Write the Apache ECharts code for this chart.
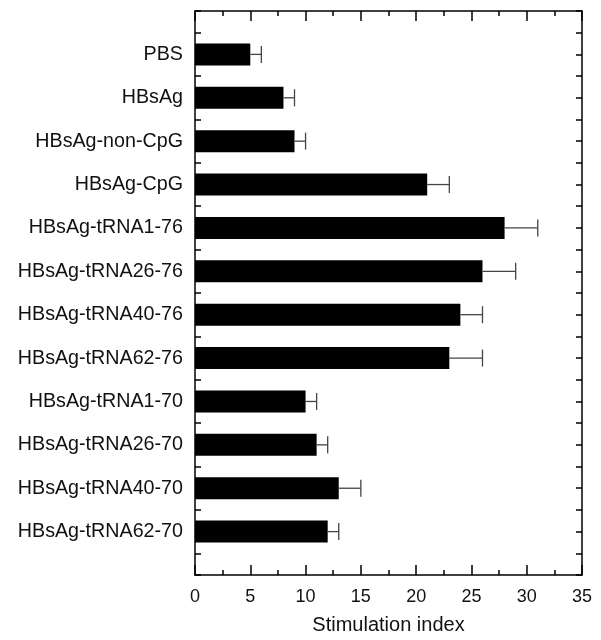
<!DOCTYPE html>
<html>
<head>
<meta charset="utf-8">
<script src="https://cdn.jsdelivr.net/npm/echarts@6/dist/echarts.min.js"></script>
<style>html,body{margin:0;padding:0;background:#fff}#c{width:601px;height:640px}</style>
</head>
<body>
<div id="c"></div>
<script>
var categories = ['PBS','HBsAg','HBsAg-non-CpG','HBsAg-CpG','HBsAg-tRNA1-76','HBsAg-tRNA26-76','HBsAg-tRNA40-76','HBsAg-tRNA62-76','HBsAg-tRNA1-70','HBsAg-tRNA26-70','HBsAg-tRNA40-70','HBsAg-tRNA62-70'];
var means = [5, 8, 9, 21, 28, 26, 24, 23, 10, 11, 13, 12];
var errors = [1, 1, 1, 2, 3, 3, 2, 3, 1, 1, 2, 1];
var xTicks = [0, 5, 10, 15, 20, 25, 30, 35];

var FONT = '"Liberation Sans", Arial, sans-serif';
var cats = [' '].concat(categories).concat(['  ']);
var barData = [null].concat(means).concat([null]);
var errData = [];
for (var i = 0; i < categories.length; i++) errData.push([means[i], i + 1, means[i] + errors[i]]);

var chart = echarts.init(document.getElementById('c'), null, {renderer: 'canvas'});
function xAxisOpt(pos, showLabel) {
  var o = {
    type: 'value', position: pos, min: xTicks[0], max: xTicks[xTicks.length - 1], interval: 5,
    axisLine: {show: true, onZero: false, lineStyle: {color: '#000', width: 1.5}},
    axisTick: {show: true, inside: true, length: 10, lineStyle: {color: '#000', width: 1.5}},
    minorTick: {show: true, splitNumber: 2, length: 5, lineStyle: {color: '#000', width: 1.5}},
    splitLine: {show: false},
    axisLabel: {show: showLabel, color: '#111', fontSize: 18, fontFamily: FONT, margin: 13}
  };
  if (showLabel) {
    o.name = 'Stimulation index';
    o.nameLocation = 'middle';
    o.nameGap = 40;
    o.nameTextStyle = {color: '#111', fontSize: 20, fontFamily: FONT};
  }
  return o;
}
chart.setOption({
  animation: false,
  grid: {left: 195, right: 19, top: 11, bottom: 58, containLabel: false},
  xAxis: [xAxisOpt('bottom', true), xAxisOpt('top', false)],
  yAxis: [
    {type: 'category', data: cats, inverse: true, boundaryGap: false, position: 'left',
     axisLine: {show: true, onZero: false, lineStyle: {color: '#000', width: 1.5}},
     axisTick: {show: false},
     axisLabel: {show: true, color: '#111', fontSize: 19.7, fontFamily: FONT, margin: 12, interval: 0},
     splitLine: {show: false}},
    {type: 'value', min: 0, max: 13, interval: 0.5, inverse: true, position: 'right',
     axisLine: {show: true, onZero: false, lineStyle: {color: '#000', width: 1.5}},
     axisTick: {show: true, inside: true, length: 6, lineStyle: {color: '#000', width: 1.5}},
     axisLabel: {show: false}, splitLine: {show: false}},
    {type: 'value', min: 0, max: 13, interval: 0.5, inverse: true, position: 'left',
     axisLine: {show: false, onZero: false},
     axisTick: {show: true, inside: true, length: 6, lineStyle: {color: '#000', width: 1.5}},
     axisLabel: {show: false}, splitLine: {show: false}}
  ],
  series: [
    {type: 'bar', xAxisIndex: 0, yAxisIndex: 0, data: barData, barWidth: 22,
     itemStyle: {color: '#000'}, z: 3},
    {type: 'custom', xAxisIndex: 0, yAxisIndex: 0, data: errData, z: 4,
     renderItem: function (params, api) {
       var p0 = api.coord([api.value(0), api.value(1)]);
       var p1 = api.coord([api.value(2), api.value(1)]);
       var h = 8.5;
       var st = {stroke: '#444', lineWidth: 1.3};
       return {type: 'group', children: [
         {type: 'line', shape: {x1: p0[0], y1: p0[1], x2: p1[0], y2: p1[1]}, style: st},
         {type: 'line', shape: {x1: p1[0], y1: p1[1] - h, x2: p1[0], y2: p1[1] + h}, style: st}
       ]};
     }}
  ]
});
</script>
</body>
</html>
